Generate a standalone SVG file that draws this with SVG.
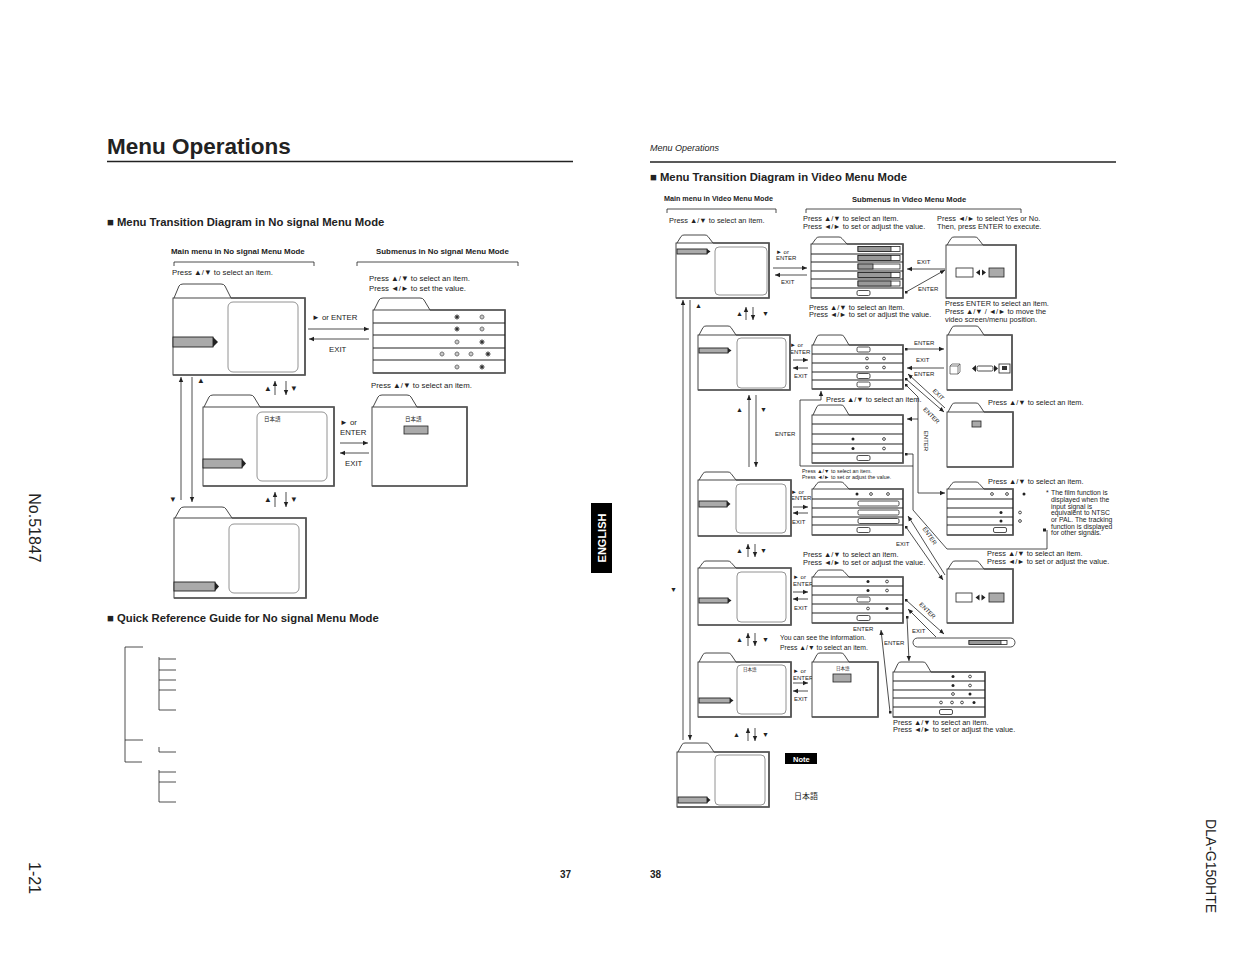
<svg xmlns="http://www.w3.org/2000/svg" xmlns:xlink="http://www.w3.org/1999/xlink" width="1235" height="954" viewBox="0 0 1235 954">
<style>
text{font-family:"Liberation Sans","DejaVu Sans",sans-serif;fill:#222}
.jp{font-family:"Noto Sans CJK JP","DejaVu Sans",sans-serif}
.tab{fill:#fff;stroke:#333;stroke-width:0.9}
.body{fill:#fff;stroke:#333;stroke-width:0.9}
.sh{fill:none;stroke:#555;stroke-width:1.7}
.scr{fill:none;stroke:#777;stroke-width:0.8}
.bar{fill:#aaa;stroke:#222;stroke-width:0.9}
.tri{fill:#222}
.row{stroke:#222;stroke-width:1.1;fill:none}
.ln{stroke:#222;stroke-width:0.8;fill:none}
.ar{marker-end:url(#ah)}
.ds{marker-start:url(#dt)}
.gr{fill:#aaa;stroke:#222;stroke-width:0.8}
.wb{fill:#fff;stroke:#222;stroke-width:0.8}
.b{font-weight:bold}
.L{font-size:7.8px}
.R{font-size:7.4px}
.S{font-size:6px}
</style>
<defs>
<marker id="ah" markerWidth="6" markerHeight="6" refX="5" refY="3" orient="auto" markerUnits="userSpaceOnUse"><path d="M0,0.8 L5,3 L0,5.2z" fill="#222"/></marker>
<marker id="dt" markerWidth="3" markerHeight="3" refX="1.5" refY="1.5" markerUnits="userSpaceOnUse"><rect width="3" height="3" fill="#222"/></marker>
<g id="sa"><path d="M-3,0H3M0,-3V3M-2.1,-2.1L2.1,2.1M-2.1,2.1L2.1,-2.1" stroke="#333" stroke-width="0.6"/><circle r="1.7" fill="#333"/></g>
<g id="sb"><path d="M-3,0H3M0,-3V3M-2.1,-2.1L2.1,2.1M-2.1,2.1L2.1,-2.1" stroke="#666" stroke-width="0.5"/><circle r="1.8" fill="#fff" stroke="#444" stroke-width="0.6"/><circle r="0.7" fill="#666"/></g>
<g id="dF"><circle r="1.5" fill="#222"/></g>
<g id="dO"><circle r="1.4" fill="#fff" stroke="#222" stroke-width="0.8"/></g>
<g id="bt"><rect x="-6.5" y="-2.5" width="13" height="5" rx="1.5" class="wb"/></g>
<g id="sl"><rect x="0" y="-2.5" width="42" height="5" class="wb"/><rect x="0" y="-2.5" width="33" height="5" fill="#999" stroke="#222" stroke-width="0.8"/></g>
<g id="lr"><path d="M-1,-3 L-5,0 L-1,3z M1,-3 L5,0 L1,3z" fill="#222"/></g>
</defs>
<rect width="1235" height="954" fill="#fff"/>

<!-- Left page header -->
<g id="left-header">
<text x="107" y="154" font-size="22.5" class="b">Menu Operations</text>
<line x1="107" y1="161.5" x2="573" y2="161.5" stroke="#222" stroke-width="1.6"/>
<text x="107" y="226" font-size="11.3" class="b">■ Menu Transition Diagram in No signal Menu Mode</text>
<text x="171" y="254" font-size="7.9" class="b">Main menu in No signal Menu Mode</text>
<text x="376" y="254" font-size="7.9" class="b">Submenus in No signal Menu Mode</text>
<path class="ln" d="M174,266 V262 H314 V266 M357,266 V262 H518 V266"/>
<text x="172" y="275" class="L">Press ▲/▼ to select an item.</text>
<text x="369" y="281" class="L">Press ▲/▼ to select an item.</text>
<text x="369" y="291" class="L">Press ◄/► to set the value.</text>
<text x="312" y="320" class="L">► or ENTER</text>
<text x="329" y="352" class="L">EXIT</text>
<text x="371" y="388" class="L">Press ▲/▼ to select an item.</text>
<text x="340" y="425" class="L">► or</text>
<text x="340" y="435" class="L">ENTER</text>
<text x="345" y="466" class="L">EXIT</text>
<text x="264" y="391" class="L">▲</text>
<text x="290" y="391" class="L">▼</text>
<text x="264" y="502" class="L">▲</text>
<text x="290" y="502" class="L">▼</text>
<text x="197" y="383" class="L">▲</text>
<text x="169" y="502" class="L">▼</text>
</g>

<!-- Left nodes -->
<g id="ns-main-1">
<path class="tab" d="M174,298 L179,286 Q180,284 183,284 L221,284 Q224,284 225,286 L231,298"/>
<rect class="body" x="173" y="298" width="132" height="77"/>
<path class="sh" d="M231,298 H305 V375 H173"/>
<rect class="scr" x="228" y="302" width="70" height="70" rx="5"/>
<rect class="bar" x="173" y="337" width="40" height="10"/>
<path class="tri" d="M213,337 L218,342 L213,347z"/>
</g>
<g id="ns-sub-1">
<path class="tab" d="M374,310 L379,300 Q380,298 383,298 L420,298 Q423,298 424,300 L430,310"/>
<rect class="body" x="373" y="310" width="132" height="63"/>
<path class="sh" d="M430,310 H505 V373 H373"/>
<path class="row" d="M373,323H505M373,335H505M373,348H505M373,360H505"/>
<use href="#sa" x="457" y="317"/><use href="#sb" x="482" y="317"/>
<use href="#sa" x="457" y="329"/><use href="#sb" x="482" y="329"/>
<use href="#sb" x="457" y="342"/><use href="#sa" x="482" y="342"/>
<use href="#sb" x="442" y="354"/><use href="#sb" x="457" y="354"/><use href="#sb" x="471" y="354"/><use href="#sa" x="488" y="354"/>
<use href="#sb" x="457" y="367"/><use href="#sa" x="482" y="367"/>
</g>
<g id="ns-main-2">
<path class="tab" d="M204,407 L209,397 Q210,395 213,395 L250,395 Q253,395 254,397 L260,407"/>
<rect class="body" x="203" y="407" width="131" height="79"/>
<path class="sh" d="M260,407 H334 V486 H203"/>
<rect class="scr" x="257" y="412" width="70" height="69" rx="5"/>
<text x="264" y="421" font-size="5.5" class="jp">日本語</text>
<rect class="bar" x="203" y="459" width="39" height="9"/>
<path class="tri" d="M242,459 L246,463.5 L242,468z"/>
</g>
<g id="ns-sub-2">
<path class="tab" d="M373,407 L378,397 Q379,395 382,395 L407,395 Q410,395 411,397 L417,407"/>
<rect class="body" x="372" y="407" width="95" height="79"/>
<path class="sh" d="M417,407 H467 V486 H372"/>
<text x="405" y="421" font-size="5.5" class="jp">日本語</text>
<rect class="gr" x="404" y="426" width="24" height="8"/>
</g>
<g id="ns-main-3">
<path class="tab" d="M175,518 L180,509 Q181,507 184,507 L222,507 Q225,507 226,509 L232,518"/>
<rect class="body" x="174" y="518" width="132" height="80"/>
<path class="sh" d="M232,518 H306 V598 H174"/>
<rect class="scr" x="229" y="524" width="70" height="69" rx="5"/>
<rect class="bar" x="174" y="582" width="41" height="9"/>
<path class="tri" d="M215,582 L219,586.5 L215,591z"/>
</g>

<!-- Quick reference -->
<g id="quick-ref">
<text x="107" y="622" font-size="11.3" class="b">■ Quick Reference Guide for No signal Menu Mode</text>
<path class="ln" d="M125,647 V762 M125,647 H143 M125,740 H143 M125,762 H142 M159,657 V710 M159,659 H176 M159,670 H176 M159,680 H176 M159,690 H176 M159,710 H176 M159,747 V752 H176 M159,770 V802 M159,772 H176 M159,782 H176 M159,802 H176"/>
</g>

<!-- Side marks and page numbers -->
<g id="side">
<text transform="translate(29,528) rotate(90)" font-size="16" text-anchor="middle">No.51847</text>
<text transform="translate(29,878) rotate(90)" font-size="16" text-anchor="middle">1-21</text>
<text transform="translate(1206,866) rotate(90)" font-size="14" text-anchor="middle">DLA-G150HTE</text>
<rect x="591" y="503" width="21" height="70" fill="#000"/>
<text transform="translate(605.5,538) rotate(-90)" font-size="11" class="b" text-anchor="middle" style="fill:#fff">ENGLISH</text>
<text x="560" y="878" font-size="10" class="b">37</text>
<text x="650" y="878" font-size="10" class="b">38</text>
</g>

<!-- Right page header and labels -->
<g id="right-header">
<text x="650" y="151" font-size="9" font-style="italic">Menu Operations</text>
<line x1="650" y1="162" x2="1116" y2="162" stroke="#222" stroke-width="1.6"/>
<text x="650" y="181" font-size="11.3" class="b">■ Menu Transition Diagram in Video Menu Mode</text>
<text x="664" y="201" font-size="7.2" class="b">Main menu in Video Menu Mode</text>
<text x="852" y="202" font-size="7.6" class="b">Submenus in Video Menu Mode</text>
<path class="ln" d="M667,213 V209 H776 V213 M806,213 V209 H1021 V213"/>
<text x="669" y="223" class="R">Press ▲/▼ to select an item.</text>
<text x="803" y="221" class="R">Press ▲/▼ to select an item.</text>
<text x="803" y="229" class="R">Press ◄/► to set or adjust the value.</text>
<text x="937" y="221" class="R">Press ◄/► to select Yes or No.</text>
<text x="937" y="229" class="R">Then, press ENTER to execute.</text>
<text x="776" y="254" class="S">► or</text>
<text x="776" y="260" class="S">ENTER</text>
<text x="781" y="284" class="S">EXIT</text>
<text x="917" y="264" class="S">EXIT</text>
<text x="918" y="291" class="S">ENTER</text>
<text x="809" y="310" class="R">Press ▲/▼ to select an item.</text>
<text x="809" y="317" class="R">Press ◄/► to set or adjust the value.</text>
<text x="945" y="306" class="R">Press ENTER to select an item.</text>
<text x="945" y="314" class="R">Press ▲/▼ / ◄/► to move the</text>
<text x="945" y="322" class="R">video screen/menu position.</text>
<text x="695" y="308" font-size="7">▲</text>
<text x="670" y="592" font-size="7">▼</text>
<text x="736" y="316" font-size="7">▲</text>
<text x="762" y="316" font-size="7">▼</text>
<text x="790" y="347" class="S">► or</text>
<text x="790" y="354" class="S">ENTER</text>
<text x="794" y="378" class="S">EXIT</text>
<text x="914" y="345" class="S">ENTER</text>
<text x="916" y="362" class="S">EXIT</text>
<text x="914" y="376" class="S">ENTER</text>
<text transform="translate(937,396) rotate(45)" class="S" text-anchor="middle">EXIT</text>
<text transform="translate(930,417) rotate(45)" class="S" text-anchor="middle">ENTER</text>
<text transform="translate(924,441) rotate(90)" class="S" text-anchor="middle">ENTER</text>
<text x="826" y="402" class="R">Press ▲/▼ to select an item.</text>
<text x="988" y="405" class="R">Press ▲/▼ to select an item.</text>
<text x="775" y="436" class="S">ENTER</text>
<text x="736" y="412" font-size="7">▲</text>
<text x="760" y="412" font-size="7">▼</text>
<text x="802" y="473" font-size="5.4">Press ▲/▼ to select an item.</text>
<text x="802" y="479" font-size="5.4">Press ◄/► to set or adjust the value.</text>
<text x="791" y="494" class="S">► or</text>
<text x="791" y="500" class="S">ENTER</text>
<text x="792" y="524" class="S">EXIT</text>
<text x="896" y="546" class="S">EXIT</text>
<text transform="translate(928,537) rotate(55)" class="S" text-anchor="middle">ENTER</text>
<text x="988" y="484" class="R">Press ▲/▼ to select an item.</text>
<text x="1046" y="495" font-size="6.8">*</text>
<text x="1051" y="495" font-size="6.8">The film function is</text>
<text x="1051" y="502" font-size="6.8">displayed when the</text>
<text x="1051" y="508.5" font-size="6.8">input signal is</text>
<text x="1051" y="515" font-size="6.8">equivalent to NTSC</text>
<text x="1051" y="522" font-size="6.8">or PAL. The tracking</text>
<text x="1051" y="528.5" font-size="6.8">function is displayed</text>
<text x="1051" y="535" font-size="6.8">for other signals.</text>
<text x="736" y="553" font-size="7">▲</text>
<text x="760" y="553" font-size="7">▼</text>
<text x="803" y="557" class="R">Press ▲/▼ to select an item.</text>
<text x="803" y="565" class="R">Press ◄/► to set or adjust the value.</text>
<text x="987" y="556" class="R">Press ▲/▼ to select an item.</text>
<text x="987" y="564" class="R">Press ◄/► to set or adjust the value.</text>
<text x="793" y="579" class="S">► or</text>
<text x="793" y="586" class="S">ENTER</text>
<text x="794" y="610" class="S">EXIT</text>
<text x="853" y="631" class="S">ENTER</text>
<text transform="translate(926,612) rotate(45)" class="S" text-anchor="middle">ENTER</text>
<text x="912" y="633" class="S">EXIT</text>
<text x="884" y="645" class="S">ENTER</text>
<text x="780" y="640" font-size="6.8">You can see the information.</text>
<text x="780" y="650" font-size="6.8">Press ▲/▼ to select an item.</text>
<text x="736" y="642" font-size="7">▲</text>
<text x="762" y="642" font-size="7">▼</text>
<text x="793" y="673" class="S">► or</text>
<text x="793" y="680" class="S">ENTER</text>
<text x="794" y="701" class="S">EXIT</text>
<text x="893" y="725" class="R">Press ▲/▼ to select an item.</text>
<text x="893" y="732" class="R">Press ◄/► to set or adjust the value.</text>
<text x="733" y="737" font-size="7">▲</text>
<text x="762" y="737" font-size="7">▼</text>
<rect x="785" y="753" width="32" height="11" fill="#000"/>
<text x="793" y="762" font-size="7.5" class="b" style="fill:#fff">Note</text>
<text x="794" y="799" font-size="8" class="jp">日本語</text>
</g>

<!-- Right nodes -->
<g id="v-main-1">
<path class="tab" d="M677,243 L681,236.5 Q682,235 684,235 L705,235 Q707,235 708,236.5 L713,243"/>
<rect class="body" x="676" y="243" width="93" height="55"/>
<path class="sh" d="M713,243 H769 V298 H676"/>
<rect class="scr" x="715" y="247" width="52" height="48" rx="4"/>
<rect class="bar" x="677" y="249" width="30" height="5"/>
<path class="tri" d="M707,249 L710.5,251.5 L707,254z"/>
</g>
<g id="v-sub-picture">
<path class="tab" d="M812,244 L816,238.5 Q817,237 819,237 L839,237 Q841,237 842,238.5 L847,244"/>
<rect class="body" x="811" y="244" width="92" height="54"/>
<path class="sh" d="M847,244 H903 V298 H811"/>
<path class="row" d="M811,254H903M811,262H903M811,271H903M811,279H903M811,288H903"/>
<use href="#sl" x="858" y="249"/>
<use href="#sl" x="858" y="258"/>
<rect x="858" y="264" width="42" height="5" class="wb"/><rect x="858" y="264" width="15" height="5" fill="#999" stroke="#222" stroke-width="0.8"/>
<use href="#sl" x="858" y="275"/>
<use href="#sl" x="858" y="283.5"/>
<use href="#bt" x="863.5" y="293"/>
</g>
<g id="v-confirm-1">
<path class="tab" d="M947,245 L951,238.5 Q952,237 954,237 L975,237 Q977,237 978,238.5 L983,245"/>
<rect class="body" x="946" y="245" width="70" height="53"/>
<path class="sh" d="M983,245 H1016 V298 H946"/>
<rect class="wb" x="956" y="268" width="17" height="9"/>
<use href="#lr" x="981" y="272.5"/>
<rect class="gr" x="989" y="268" width="15" height="9"/>
</g>
<g id="v-main-2">
<path class="tab" d="M699,335 L703,327.5 Q704,326 706,326 L728,326 Q730,326 731,327.5 L736,335"/>
<rect class="body" x="698" y="335" width="92" height="55"/>
<path class="sh" d="M736,335 H790 V390 H698"/>
<rect class="scr" x="737" y="338" width="49" height="50" rx="4"/>
<rect class="bar" x="699" y="348" width="29" height="5"/>
<path class="tri" d="M728,348 L731.5,350.5 L728,353z"/>
</g>
<g id="v-sub-screen">
<path class="tab" d="M813,345 L817,336.5 Q818,335 820,335 L841,335 Q843,335 844,336.5 L849,345"/>
<rect class="body" x="812" y="345" width="91" height="44"/>
<path class="sh" d="M849,345 H903 V389 H812"/>
<path class="row" d="M812,354H903M812,363H903M812,372H903M812,380H903"/>
<use href="#bt" x="863.5" y="349.5"/>
<use href="#dO" x="867" y="358.5"/><use href="#dO" x="884" y="358.5"/>
<use href="#dO" x="867" y="367.5"/><use href="#dO" x="884" y="367.5"/>
<use href="#bt" x="863.5" y="376"/>
<use href="#bt" x="863.5" y="384.5"/>
</g>
<g id="v-position">
<path class="tab" d="M948,335 L952,327.5 Q953,326 955,326 L976,326 Q978,326 979,327.5 L984,335"/>
<rect class="body" x="947" y="335" width="65" height="55"/>
<path class="sh" d="M984,335 H1012 V390 H947"/>
<path d="M950,366 h8 v8 h-8z M950,366 l2,-2 h8 v8 l-2,2 M958,366 l2,-2" fill="#fff" stroke="#444" stroke-width="0.7"/>
<path d="M976,365 L972,368.5 L976,372z M994,365 L998,368.5 L994,372z" fill="#222"/>
<rect class="wb" x="977" y="366" width="16" height="5" rx="1.5"/>
<rect class="wb" x="999" y="364" width="11" height="9"/>
<rect x="1002" y="366" width="5" height="4" fill="#333"/>
</g>
<g id="v-sub-aspect">
<path class="tab" d="M813,415 L817,406.5 Q818,405 820,405 L841,405 Q843,405 844,406.5 L849,415"/>
<rect class="body" x="812" y="415" width="91" height="48"/>
<path class="sh" d="M849,415 H903 V463 H812"/>
<path class="row" d="M812,424H903M812,434H903M812,444H903M812,453H903"/>
<use href="#dF" x="853" y="439"/><use href="#dO" x="884" y="439"/>
<use href="#dF" x="853" y="448.5"/><use href="#dO" x="884" y="448.5"/>
<use href="#bt" x="863.5" y="458"/>
</g>
<g id="v-select">
<path class="tab" d="M948,412 L952,404.5 Q953,403 955,403 L976,403 Q978,403 979,404.5 L984,412"/>
<rect class="body" x="947" y="412" width="66" height="55"/>
<path class="sh" d="M984,412 H1013 V467 H947"/>
<rect class="gr" x="972" y="421" width="9" height="6"/>
</g>
<g id="v-main-3">
<path class="tab" d="M699,480 L703,473.5 Q704,472 706,472 L728,472 Q730,472 731,473.5 L736,480"/>
<rect class="body" x="698" y="480" width="93" height="56"/>
<path class="sh" d="M736,480 H791 V536 H698"/>
<rect class="scr" x="736" y="484" width="50" height="49" rx="4"/>
<rect class="bar" x="699" y="501" width="28" height="6"/>
<path class="tri" d="M727,501 L730.5,504 L727,507z"/>
</g>
<g id="v-sub-signal">
<path class="tab" d="M813,489 L817,483.5 Q818,482 820,482 L841,482 Q843,482 844,483.5 L849,489"/>
<rect class="body" x="812" y="489" width="91" height="46"/>
<path class="sh" d="M849,489 H903 V535 H812"/>
<path class="row" d="M812,499H903M812,508H903M812,517H903M812,525H903"/>
<use href="#dF" x="857" y="494"/><use href="#dO" x="871" y="494"/><use href="#dO" x="888" y="494"/>
<rect class="wb" x="858" y="501" width="41" height="5" rx="1.5"/>
<rect class="wb" x="858" y="510" width="41" height="5" rx="1.5"/>
<rect class="wb" x="858" y="518.5" width="41" height="5" rx="1.5"/>
<use href="#bt" x="863.5" y="530"/>
</g>
<g id="v-film">
<path class="tab" d="M948,489 L952,483.5 Q953,482 955,482 L976,482 Q978,482 979,483.5 L984,489"/>
<rect class="body" x="947" y="489" width="66" height="46"/>
<path class="sh" d="M984,489 H1013 V535 H947"/>
<path class="row" d="M947,499H1013M947,508H1013M947,517H1013M947,525H1013"/>
<use href="#dO" x="992" y="494"/><use href="#dO" x="1007" y="494"/><use href="#dF" x="1024" y="494"/>
<use href="#dF" x="1001" y="512.5"/><use href="#dO" x="1020" y="512.5"/>
<use href="#dF" x="1001" y="521"/><use href="#dO" x="1020" y="521"/>
<use href="#bt" x="1000" y="530"/>
</g>
<g id="v-confirm-2">
<path class="tab" d="M948,569 L952,562.5 Q953,561 955,561 L976,561 Q978,561 979,562.5 L984,569"/>
<rect class="body" x="947" y="569" width="66" height="54"/>
<path class="sh" d="M984,569 H1013 V623 H947"/>
<rect class="wb" x="956" y="593" width="16" height="9"/>
<use href="#lr" x="980.5" y="597.5"/>
<rect class="gr" x="989" y="593" width="15" height="9"/>
</g>
<g id="v-main-4">
<path class="tab" d="M699,568 L703,562.5 Q704,561 706,561 L728,561 Q730,561 731,562.5 L736,568"/>
<rect class="body" x="698" y="568" width="93" height="57"/>
<path class="sh" d="M736,568 H791 V625 H698"/>
<rect class="scr" x="737" y="572" width="49" height="50" rx="4"/>
<rect class="bar" x="699" y="598" width="29" height="5"/>
<path class="tri" d="M728,598 L731.5,600.5 L728,603z"/>
</g>
<g id="v-sub-setup">
<path class="tab" d="M813,577 L817,571.5 Q818,570 820,570 L841,570 Q843,570 844,571.5 L849,577"/>
<rect class="body" x="812" y="577" width="91" height="46"/>
<path class="sh" d="M849,577 H903 V623 H812"/>
<path class="row" d="M812,586H903M812,595H903M812,604H903M812,613H903"/>
<use href="#dF" x="868" y="581.5"/><use href="#dO" x="887" y="581.5"/>
<use href="#dF" x="868" y="590.5"/><use href="#dO" x="887" y="590.5"/>
<use href="#bt" x="863.5" y="599.5"/>
<use href="#dO" x="868" y="608.5"/><use href="#dF" x="887" y="608.5"/>
<use href="#bt" x="863.5" y="618"/>
</g>
<g id="v-info">
<rect x="913" y="638" width="102" height="9" rx="4.5" class="wb"/>
<rect x="969" y="640.5" width="38" height="4" class="wb"/>
<rect x="969" y="640.5" width="32" height="4" fill="#999" stroke="#222" stroke-width="0.7"/>
</g>
<g id="v-main-5">
<path class="tab" d="M699,662 L703,654.5 Q704,653 706,653 L728,653 Q730,653 731,654.5 L736,662"/>
<rect class="body" x="698" y="662" width="93" height="55"/>
<path class="sh" d="M736,662 H791 V717 H698"/>
<rect class="scr" x="737" y="665" width="49" height="49" rx="4"/>
<text x="743" y="671" font-size="4.5" class="jp">日本語</text>
<rect class="bar" x="699" y="698" width="31" height="5"/>
<path class="tri" d="M730,698 L733.5,700.5 L730,703z"/>
</g>
<g id="v-language">
<path class="tab" d="M813,662 L817,654.5 Q818,653 820,653 L841,653 Q843,653 844,654.5 L849,662"/>
<rect class="body" x="812" y="662" width="66" height="55"/>
<path class="sh" d="M849,662 H878 V717 H812"/>
<text x="836" y="670" font-size="4.5" class="jp">日本語</text>
<rect class="gr" x="833" y="674" width="18" height="8"/>
</g>
<g id="v-sub-menu">
<path class="tab" d="M894,672 L898,663.5 Q899,662 901,662 L923,662 Q925,662 926,663.5 L931,672"/>
<rect class="body" x="893" y="672" width="92" height="45"/>
<path class="sh" d="M931,672 H985 V717 H893"/>
<path class="row" d="M893,681H985M893,690H985M893,698H985M893,707H985"/>
<use href="#dF" x="953" y="676.5"/><use href="#dO" x="970" y="676.5"/>
<use href="#dF" x="953" y="685.5"/><use href="#dO" x="970" y="685.5"/>
<use href="#dO" x="953" y="694"/><use href="#dF" x="970" y="694"/>
<use href="#dO" x="941" y="702.5"/><use href="#dO" x="952" y="702.5"/><use href="#dO" x="962" y="702.5"/><use href="#dF" x="974" y="702.5"/>
<use href="#bt" x="946" y="712"/>
</g>
<g id="v-main-6">
<path class="tab" d="M678,752 L682,744.5 Q683,743 685,743 L706,743 Q708,743 709,744.5 L714,752"/>
<rect class="body" x="677" y="752" width="92" height="55"/>
<path class="sh" d="M714,752 H769 V807 H677"/>
<rect class="scr" x="715" y="755" width="50" height="50" rx="4"/>
<rect class="bar" x="678" y="797" width="29" height="6"/>
<path class="tri" d="M707,797 L710.5,800 L707,803z"/>
</g>

<!-- Connectors -->
<g id="connectors" class="ln">
<line class="ar" x1="308" y1="329" x2="369" y2="329"/>
<line class="ar" x1="369" y1="339" x2="309" y2="339"/>
<line class="ar" x1="340" y1="443" x2="368" y2="443"/>
<line class="ar" x1="369" y1="453" x2="340" y2="453"/>
<line class="ar" x1="275" y1="395" x2="275" y2="381"/>
<line class="ar" x1="286" y1="381" x2="286" y2="395"/>
<line class="ar" x1="275" y1="507" x2="275" y2="492"/>
<line class="ar" x1="286" y1="492" x2="286" y2="507"/>
<line class="ar" x1="181" y1="500" x2="181" y2="377"/>
<line class="ar" x1="192" y1="377" x2="192" y2="502"/>

<line class="ar" x1="683" y1="740" x2="683" y2="300"/>
<line class="ar" x1="690" y1="300" x2="690" y2="740"/>
<line class="ar" x1="746" y1="320" x2="746" y2="307"/>
<line class="ar" x1="753" y1="307" x2="753" y2="320"/>
<line class="ar" x1="749" y1="467" x2="749" y2="395"/>
<line class="ar" x1="756" y1="395" x2="756" y2="467"/>
<line class="ar" x1="748" y1="557" x2="748" y2="544"/>
<line class="ar" x1="755" y1="544" x2="755" y2="557"/>
<line class="ar" x1="748" y1="646" x2="748" y2="633"/>
<line class="ar" x1="755" y1="633" x2="755" y2="646"/>
<line class="ar" x1="748" y1="741" x2="748" y2="728"/>
<line class="ar" x1="755" y1="728" x2="755" y2="741"/>

<line class="ar" x1="773" y1="268" x2="807" y2="268"/>
<line class="ar" x1="807" y1="275" x2="775" y2="275"/>
<line class="ar" x1="945" y1="269" x2="907" y2="269"/>
<line class="ar ds" x1="906" y1="292" x2="945" y2="270"/>

<line class="ar" x1="793" y1="360" x2="808" y2="360"/>
<line class="ar" x1="808" y1="368" x2="793" y2="368"/>
<line class="ar ds" x1="906" y1="349" x2="944" y2="349"/>
<line class="ar" x1="944" y1="368" x2="907" y2="368"/>
<line class="ar" x1="945" y1="408" x2="908" y2="374"/>
<line class="ar ds" x1="906" y1="379" x2="944" y2="412"/>
<path class="ar ds" d="M906,385 L918,397 V493 H945"/>
<line class="ar" x1="918" y1="419" x2="907" y2="419"/>
<path class="ds" d="M906,454 H913 V510 L947,549 H1047 V530"/>
<rect x="1043" y="528.5" width="3" height="3" fill="#222" stroke="none"/>
<path class="ar" d="M913,466 H800 V400 H821 V391"/>

<line class="ar" x1="793" y1="507" x2="808" y2="507"/>
<line class="ar" x1="808" y1="513" x2="793" y2="513"/>
<line class="ar" x1="945" y1="575" x2="908" y2="516"/>
<line class="ar ds" x1="906" y1="527" x2="943" y2="580"/>

<line class="ar" x1="793" y1="592" x2="808" y2="592"/>
<line class="ar" x1="808" y1="599" x2="793" y2="599"/>
<line class="ar ds" x1="906" y1="600" x2="944" y2="634"/>
<line class="ar" x1="936" y1="637" x2="908" y2="609"/>
<line class="ar ds" x1="907" y1="617" x2="909" y2="661"/>
<line class="ar ds" x1="890" y1="712" x2="881" y2="630"/>

<line class="ar" x1="793" y1="683" x2="808" y2="683"/>
<line class="ar" x1="808" y1="691" x2="793" y2="691"/>
</g>
</svg>
